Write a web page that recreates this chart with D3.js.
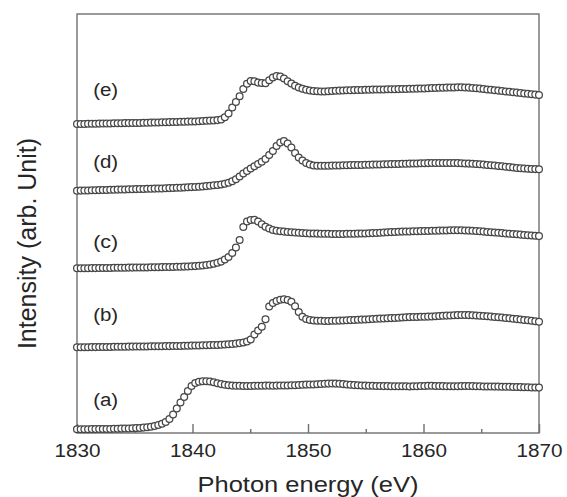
<!DOCTYPE html>
<html><head><meta charset="utf-8">
<script src="https://cdn.jsdelivr.net/npm/d3@7"></script>
<style>
body{margin:0;background:#fff}
svg{display:block}
text{font-family:"Liberation Sans",Arial,Helvetica,sans-serif;fill:#262626}
</style>
</head><body>
<svg id="chart" width="567" height="497"></svg>
<script>
// ---- data ----
const seriesNames = ["(a)", "(b)", "(c)", "(d)", "(e)"];
const energyStart = 1830, energyStep = 0.32, energyCount = 126;   // photon energy grid (eV)
const xTicks = [1830, 1840, 1850, 1860, 1870];
const xMinorTicks = [1835, 1845, 1855, 1865];
const labelLevels = [27, 112, 185, 265, 337];   // intensity level of each curve label
const labelEnergy = 1831.4;

const seriesA = [
 3.7,3.7,3.8,3.8,3.9,3.9,4.0,4.0,4.1,4.1,
 4.2,4.3,4.4,4.5,4.6,4.7,4.9,5.1,5.4,5.8,
 6.3,7.0,8.0,9.3,11.0,14.0,18.5,24.5,30.5,36.0,
 42.0,47.0,50.0,51.3,51.8,51.8,51.5,50.8,49.8,48.9,
 48.2,47.7,47.4,47.2,47.2,47.1,47.0,47.1,47.2,47.2,
 47.3,47.4,47.4,47.3,47.4,47.5,47.6,47.6,47.7,47.8,
 48.0,48.2,48.4,48.5,48.6,48.8,49.0,49.2,49.4,49.5,
 49.4,49.2,48.9,48.5,48.2,47.9,47.7,47.5,47.4,47.3,
 47.2,47.1,47.0,46.9,46.9,46.8,46.8,46.7,46.7,46.7,
 46.6,46.7,46.8,47.0,47.1,47.2,47.2,47.1,47.0,46.9,
 46.8,46.7,46.7,46.8,46.9,47.0,47.0,46.9,46.8,46.7,
 46.6,46.5,46.5,46.4,46.4,46.3,46.2,46.2,46.1,46.0,
 45.9,45.8,45.7,45.6,45.5,45.4];
const seriesB = [
 85.7,85.7,85.8,85.8,85.9,85.9,86.0,86.0,86.1,86.1,
 86.2,86.2,86.3,86.3,86.4,86.4,86.5,86.5,86.6,86.6,
 86.7,86.7,86.8,86.8,86.9,86.9,87.0,87.0,87.1,87.2,
 87.3,87.4,87.5,87.6,87.7,87.8,87.9,88.0,88.1,88.3,
 88.5,88.8,89.1,89.4,89.9,90.6,91.6,93.5,98.5,102.5,
 106.3,113.7,126.5,130.0,132.0,133.3,133.7,133.0,131.3,126.8,
 121.0,116.3,114.0,113.0,112.5,112.3,112.2,112.1,112.1,112.2,
 112.3,112.4,112.5,112.7,112.9,113.0,113.2,113.4,113.6,113.8,
 114.0,114.2,114.4,114.5,114.7,114.9,115.1,115.3,115.5,115.7,
 115.9,116.0,116.1,116.2,116.3,116.4,116.6,116.8,117.0,117.2,
 117.4,117.6,117.8,117.9,118.0,118.0,117.9,117.8,117.6,117.3,
 117.0,116.7,116.4,116.1,115.8,115.5,115.1,114.7,114.3,113.9,
 113.5,113.1,112.7,112.2,111.8,111.3];
const seriesC = [
 164.7,164.7,164.8,164.8,164.9,164.9,165.0,165.0,165.1,165.1,
 165.2,165.2,165.3,165.3,165.4,165.4,165.5,165.5,165.6,165.6,
 165.7,165.8,165.8,165.9,166.0,166.0,166.1,166.2,166.3,166.4,
 166.5,166.7,166.9,167.2,167.6,168.0,168.6,169.3,170.2,171.4,
 173.5,176.0,180.0,185.5,193.0,206.0,211.5,213.0,213.2,211.5,
 208.8,206.3,204.5,203.0,202.3,201.8,201.4,201.1,200.8,200.5,
 200.2,200.0,199.8,199.6,199.5,199.4,199.3,199.2,199.2,199.1,
 199.1,199.1,199.1,199.2,199.2,199.3,199.4,199.5,199.6,199.7,
 199.9,200.1,200.3,200.5,200.7,200.9,201.1,201.3,201.4,201.5,
 201.6,201.7,201.8,201.9,202.0,202.1,202.2,202.3,202.4,202.5,
 202.6,202.7,202.8,202.8,202.7,202.6,202.4,202.2,202.0,201.7,
 201.4,201.1,200.8,200.5,200.2,199.9,199.6,199.3,199.0,198.7,
 198.4,198.1,197.8,197.5,197.2,196.9];
const seriesD = [
 242.3,242.4,242.5,242.6,242.7,242.8,242.9,243.0,243.1,243.2,
 243.3,243.4,243.5,243.6,243.7,243.8,243.9,244.0,244.1,244.2,
 244.3,244.4,244.5,244.6,244.8,244.9,245.0,245.2,245.3,245.5,
 245.7,245.9,246.1,246.3,246.6,246.9,247.3,247.7,248.1,248.6,
 249.3,250.2,251.7,253.8,256.5,259.5,262.0,264.5,266.7,269.0,
 271.3,274.0,278.0,282.0,287.0,290.5,292.0,289.5,285.5,280.0,
 275.5,272.5,270.0,268.5,267.6,267.3,267.2,267.2,267.3,267.4,
 267.5,267.6,267.7,267.8,267.9,268.0,268.0,268.1,268.2,268.3,
 268.4,268.5,268.6,268.7,268.8,268.9,269.0,269.1,269.2,269.3,
 269.4,269.5,269.6,269.7,269.8,269.9,270.0,270.0,270.1,270.1,
 270.1,270.1,270.0,269.9,269.8,269.6,269.4,269.2,269.0,268.7,
 268.4,268.1,267.8,267.5,267.1,266.7,266.3,265.9,265.5,265.1,
 264.8,264.5,264.3,264.1,263.9,263.7];
const seriesE = [
 309.0,309.1,309.1,309.2,309.3,309.3,309.4,309.5,309.5,309.6,
 309.7,309.7,309.8,309.9,309.9,310.0,310.1,310.1,310.2,310.3,
 310.4,310.5,310.6,310.7,310.8,310.9,311.0,311.1,311.2,311.3,
 311.4,311.5,311.6,311.8,312.0,312.2,312.4,312.6,312.9,313.6,
 315.8,319.5,325.5,331.0,336.7,344.0,349.2,352.0,351.8,350.4,
 350.0,349.8,352.8,355.5,357.0,356.5,354.6,351.8,349.5,347.2,
 345.5,344.3,343.2,342.5,342.0,341.7,341.6,341.6,341.8,342.0,
 342.2,342.4,342.6,342.7,342.8,342.9,343.0,343.1,343.2,343.3,
 343.4,343.5,343.6,343.6,343.7,343.7,343.8,343.9,344.0,344.1,
 344.2,344.3,344.4,344.5,344.6,344.8,345.0,345.1,345.2,345.3,
 345.4,345.5,345.6,345.7,345.7,345.6,345.4,345.1,344.8,344.4,
 344.0,343.6,343.2,342.8,342.4,342.0,341.6,341.2,340.8,340.4,
 340.0,339.6,339.2,338.8,338.4,338.0];
const allSeries = [seriesA, seriesB, seriesC, seriesD, seriesE];

// ---- drawing ----
const svg = d3.select("#chart");
const x = d3.scaleLinear().domain([1830, 1870]).range([77, 539]);
const y = d3.scaleLinear().domain([0, 419]).range([433, 14]);
const [x0, x1] = x.range();
const [yb, yt] = y.range();
const frameColor = "#707070";

// frame
svg.append("rect")
  .attr("x", x0).attr("y", yt).attr("width", x1 - x0).attr("height", yb - yt)
  .attr("fill", "none").attr("stroke", frameColor).attr("stroke-width", 1.4);

// major ticks + labels
const ax = svg.append("g").attr("transform", `translate(0,${yb})`)
  .call(d3.axisBottom(x).tickValues(xTicks).tickSize(-9).tickPadding(12).tickFormat(d3.format("d")));
ax.attr("font-family", null).attr("font-size", null);
ax.select(".domain").remove();
ax.selectAll(".tick line").attr("stroke", frameColor).attr("stroke-width", 1.4);
ax.selectAll(".tick text")
  .attr("font-size", 17.5).attr("fill", "#262626")
  .attr("textLength", 46).attr("lengthAdjust", "spacingAndGlyphs");

// minor ticks
const axm = svg.append("g").attr("transform", `translate(0,${yb})`)
  .call(d3.axisBottom(x).tickValues(xMinorTicks).tickSize(-4).tickFormat(""));
axm.select(".domain").remove();
axm.selectAll(".tick line").attr("stroke", frameColor).attr("stroke-width", 1.4);

// curves: open circles
allSeries.forEach((vals, k) => {
  const pts = vals.map((v, i) => ({e: energyStart + i * energyStep, v}));
  svg.append("g").selectAll("circle").data(pts).join("circle")
    .attr("cx", d => x(d.e)).attr("cy", d => y(d.v)).attr("r", 3.4)
    .attr("fill", "#fff").attr("stroke", "#474747").attr("stroke-width", 1.25);
});

// curve labels
svg.append("g").selectAll("text").data(seriesNames).join("text")
  .attr("x", x(labelEnergy)).attr("y", (d, i) => y(labelLevels[i]))
  .attr("font-size", 18).attr("textLength", 25).attr("lengthAdjust", "spacingAndGlyphs")
  .text(d => d);

// axis titles
svg.append("text")
  .attr("x", (x0 + x1) / 2).attr("y", 491.5).attr("text-anchor", "middle")
  .attr("font-size", 22).attr("textLength", 221).attr("lengthAdjust", "spacingAndGlyphs")
  .text("Photon energy (eV)");
svg.append("text")
  .attr("transform", "translate(36,243.5) rotate(-90)").attr("text-anchor", "middle")
  .attr("font-size", 25)
  .text("Intensity (arb. Unit)");
</script>
</body></html>
